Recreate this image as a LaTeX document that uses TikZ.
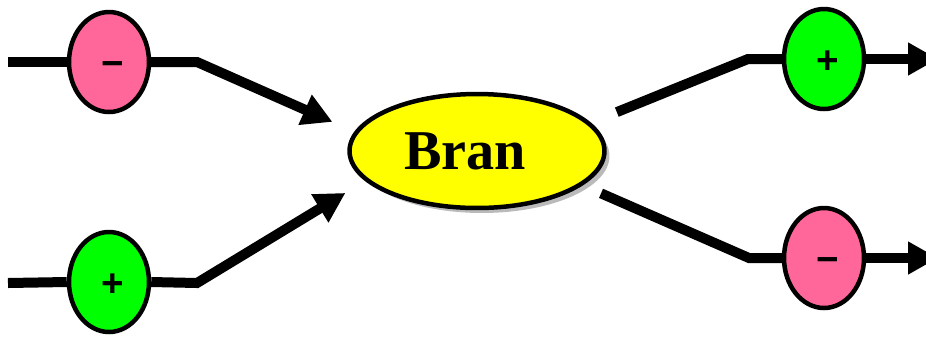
\documentclass[tikz,border=0pt]{standalone}
\usepackage{fontspec}
\setmainfont{Liberation Serif}
\newfontfamily\signfont{Liberation Sans}
\usetikzlibrary{arrows.meta,shapes.geometric,shadows}

\definecolor{negpink}{HTML}{FF6699}
\definecolor{posgreen}{HTML}{00FF00}
\definecolor{branyellow}{HTML}{FFFF00}

\begin{document}
\begin{tikzpicture}[
        x=0.02cm, y=-0.02cm,
        sign/.style={
            ellipse,
            draw,
            line width=0.09cm,
            minimum width=1.6cm,
            minimum height=2cm,
            inner sep=0pt
        },
        signtext/.style={
            font=\signfont\bfseries\fontsize{22}{22}\selectfont,
            text height=0.66em,
            text depth=0pt,
            inner sep=0pt,
            xshift=0.08cm,
            yshift=-0.18cm
        },
        minussign/.style={sign, fill=negpink, label={[signtext]center:\symbol{"2212}}},
        plussign/.style={sign, fill=posgreen, label={[signtext]center:+}},
        line/.style={line width=0.2cm, line join=miter},
        arrow/.style={line, -{Triangle[length=0.6cm, width=0.62cm]}}
    ]
        \useasboundingbox (0,0) rectangle (926,336);

        \node[ellipse, draw, line width=0.09cm, fill=branyellow,
              minimum width=5.1cm, minimum height=2.28cm,
              drop shadow={shadow xshift=0.1cm, shadow yshift=-0.1cm, fill=black!45, opacity=0.6},
              label={[font=\bfseries\fontsize{32}{32}\selectfont, inner sep=0pt, xshift=-0.24cm]center:Bran}]
              (bran) at (477,151) {};

        \node[minussign] (m1) at (109,62) {};
        \node[plussign] (p1) at (109,282) {};
        \node[plussign] (p2) at (824,59) {};
        \node[minussign] (m2) at (824,258) {};

        \coordinate (in1) at (8,62);
        \coordinate (in2) at (8,283);
        \coordinate (b1) at (197,62);
        \coordinate (b2) at (197,283);
        \coordinate (b3) at (748,59);
        \coordinate (b4) at (749,258);
        \coordinate (out1) at (938,59);
        \coordinate (out2) at (938,258);

        \draw[line] (in1) -- (m1.west);
        \draw[line] (in2) -- (p1.west);
        \draw[arrow, shorten >=0.48cm] (m1.east) -- (b1) -- (bran.171);
        \draw[arrow, shorten >=0.46cm] (p1.east) -- (b2) -- (bran.195);

        \draw[line, shorten <=0.56cm] (bran.14) -- (b3) -- (p2.west);
        \draw[line, shorten <=0.4cm] (bran.342) -- (b4) -- (m2.west);
        \draw[arrow] (p2.east) -- (out1);
        \draw[arrow] (m2.east) -- (out2);
    \end{tikzpicture}
\end{document}
